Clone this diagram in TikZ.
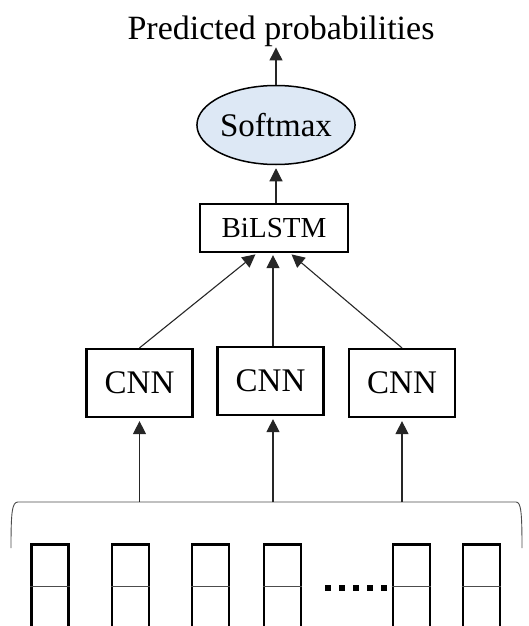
\documentclass[tikz,border=0pt]{standalone}
\usepackage{fontspec}
\setmainfont{Liberation Serif}
\usepackage{tikz}
\usetikzlibrary{arrows.meta,shapes.geometric}

\definecolor{softblue}{RGB}{221,232,245}

\begin{document}
\begin{tikzpicture}[x=1pt, y=-1pt,
  box/.style={draw, line width=2.2pt, inner sep=0pt},
  cnnbox/.style={box, minimum width=106, minimum height=68, font=\fontsize{33}{38}\selectfont},
  arr/.style={draw=black!85, line width=1.1pt, -{Triangle[length=13pt,width=13pt]}},
  token/.style={draw, line width=2.6pt, minimum width=37, minimum height=120, anchor=north, inner sep=0pt}]
\clip (0,0) rectangle (529,626);

% top
\node[font=\fontsize{34}{40}\selectfont, inner sep=0pt, anchor=base] (out) at (281,40) {Predicted probabilities};
\node[ellipse, draw, line width=1.5pt, fill=softblue, minimum width=144, minimum height=79, inner sep=0pt, font=\fontsize{33}{38}\selectfont] (soft) at (276,125) {Softmax};
\node[box, minimum width=148, minimum height=48, font=\fontsize{29}{34}\selectfont] (bilstm) at (274,228) {BiLSTM};

\draw[arr] (soft.north) -- (soft.north |- out.south);
\draw[arr, shorten >=3pt] (soft.south |- bilstm.north) -- (soft.south);

% cnn layer
\node[cnnbox] (cnn1) at (139.5,383) {CNN};
\node[cnnbox] (cnn2) at (270.5,381) {CNN};
\node[cnnbox] (cnn3) at (402,383) {CNN};

\draw[arr, shorten >=2pt] (cnn1.north) -- ([xshift=-17pt]bilstm.south);
\draw[arr, shorten >=2pt] (cnn2.north -| 273,0) -- (bilstm.south -| 273,0);
\draw[arr, shorten >=2pt] (cnn3.north) -- ([xshift=16pt]bilstm.south);

% brace over the tokens
\coordinate (brace) at (0,502);
\draw[line width=0.9pt, black!70] (11,548) .. controls (11,512) and (12,502) .. (18,502) -- (516,502) .. controls (521,502) and (522,512) .. (522,548);
\draw[arr, shorten >=3pt] (cnn1.south |- brace) -- (cnn1.south);
\draw[arr, shorten >=3pt] (brace -| 273,0) -- (cnn2.south -| 273,0);
\draw[arr, shorten >=3pt] (cnn3.south |- brace) -- (cnn3.south);

% tokens
\foreach \x [count=\i] in {50,130.5,210.5,282.5,411.5,481.5} {
  \node[token] (tok\i) at (\x,543) {};
  \draw[line width=1pt, black!70] ([yshift=-43pt]tok\i.north west) -- ([yshift=-43pt]tok\i.north east);
}
\foreach \x in {328,342,356,370,384}
  \fill (\x-3,585) rectangle (\x+3,591);
\end{tikzpicture}
\end{document}
